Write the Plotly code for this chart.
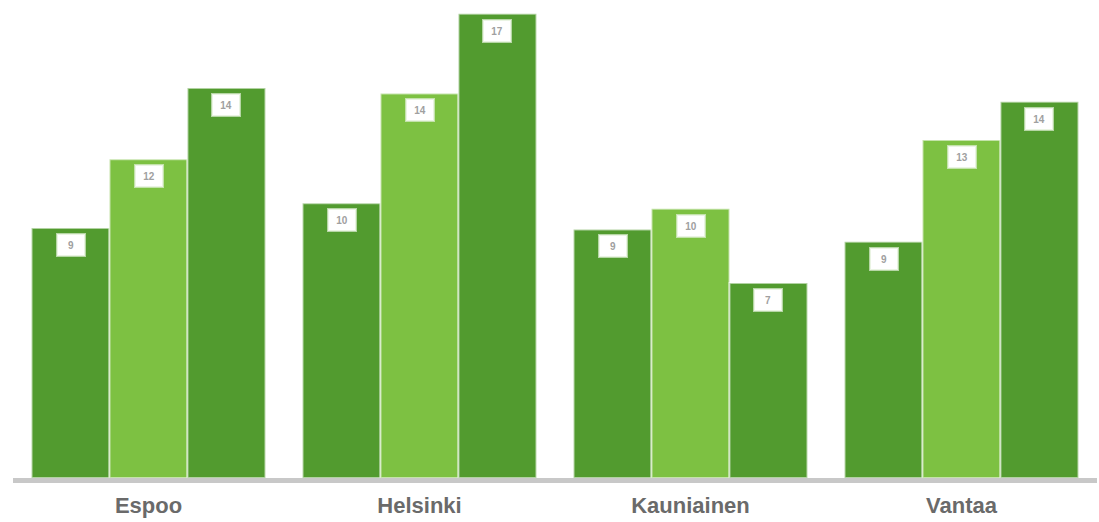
import plotly.graph_objects as go

cities = ["Espoo", "Helsinki", "Kauniainen", "Vantaa"]
series_a = [9.1, 10.0, 9.05, 8.6]
series_b = [11.6, 14.0, 9.8, 12.3]
series_c = [14.2, 16.9, 7.1, 13.7]
labels_a = ["9", "10", "9", "9"]
labels_b = ["12", "14", "10", "13"]
labels_c = ["14", "17", "7", "14"]

dark = "#529b2f"
light = "#7dc142"

fig = go.Figure()
for name, vals, col in [("a", series_a, dark), ("b", series_b, light), ("c", series_c, dark)]:
    fig.add_trace(go.Bar(
        x=cities, y=vals, name=name, marker_color=col,
        marker_line=dict(color="rgba(255,255,255,0.55)", width=2),
    ))

# value labels in small white boxes near the top of each bar
bar_w = (1 - 0.137) / 3
for k, (vals, labs) in enumerate([(series_a, labels_a), (series_b, labels_b), (series_c, labels_c)]):
    for i, (v, t) in enumerate(zip(vals, labs)):
        fig.add_annotation(
            x=i + (k - 1) * bar_w, y=v, text="<b>" + t + "</b>", showarrow=False,
            yanchor="top", yshift=-5,
            font=dict(family="Liberation Sans", size=10, color="#a0a0a0"),
            bgcolor="white", bordercolor="rgba(225,240,215,0.7)", borderwidth=2,
            borderpad=2, width=22, height=16,
        )

fig.update_layout(
    width=1099, height=522,
    margin=dict(l=13, r=2, t=0, b=44),
    barmode="group", bargap=0.137, bargroupgap=0,
    plot_bgcolor="white", paper_bgcolor="white",
    showlegend=False,
)
fig.update_xaxes(
    type="category", showline=True, linecolor="#c8c8c8", linewidth=5,
    ticks="outside", ticklen=4, tickcolor="rgba(0,0,0,0)", automargin=False,
    tickfont=dict(family="Liberation Sans", size=22, color="#6a6a6a", weight="bold"),
    showgrid=False,
)
fig.update_yaxes(range=[0, 17.4], visible=False, showgrid=False)

fig.write_html("out.html", config={"displayModeBar": False},
               post_script="document.body.style.margin='0';")
